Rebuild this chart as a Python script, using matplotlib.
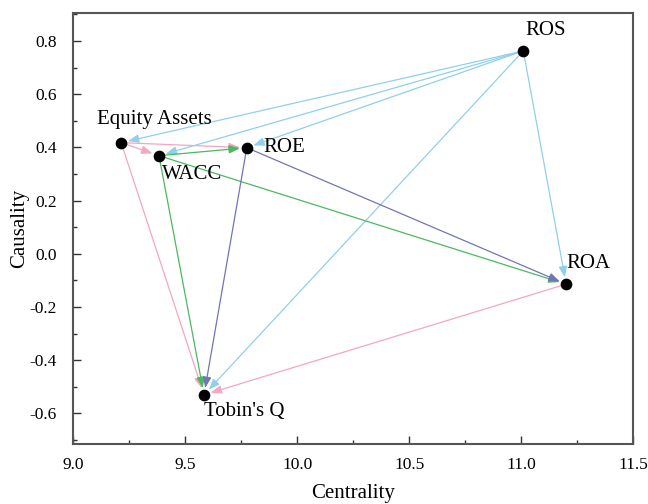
import matplotlib
matplotlib.use("Agg")
import matplotlib.pyplot as plt
from matplotlib.ticker import MultipleLocator

plt.rcParams['font.family'] = ['Liberation Serif', 'DejaVu Serif']

# Node positions: centrality (D+R) and causality (D-R)
nodes = ["ROS", "Equity Assets", "WACC", "ROE", "ROA", "Tobin's Q"]
centrality = [11.01, 9.214, 9.383, 9.775, 11.201, 9.584]
causality = [0.763, 0.418, 0.369, 0.399, -0.114, -0.530]

# Directed influence relations (source, target)
edges = [
    ("ROS", "Equity Assets"), ("ROS", "WACC"), ("ROS", "ROE"),
    ("ROS", "ROA"), ("ROS", "Tobin's Q"),
    ("Equity Assets", "WACC"), ("Equity Assets", "ROE"), ("Equity Assets", "Tobin's Q"),
    ("WACC", "ROE"), ("WACC", "ROA"), ("WACC", "Tobin's Q"),
    ("ROE", "ROA"), ("ROE", "Tobin's Q"),
    ("ROA", "Tobin's Q"),
]
source_colors = {
    "ROS": "#8fd0ea",
    "Equity Assets": "#f3a7c0",
    "WACC": "#4cb960",
    "ROE": "#7275b5",
    "ROA": "#f3a7c0",
}
label_offsets = {
    "ROS": (16, 8, "center", "bottom"),
    "Equity Assets": (24, 10, "center", "bottom"),
    "WACC": (2, -7, "left", "top"),
    "ROE": (12, 0, "left", "center"),
    "ROA": (0, 8, "left", "bottom"),
    "Tobin's Q": (0, -5, "left", "top"),
}

pos = {n: (x, y) for n, x, y in zip(nodes, centrality, causality)}

fig = plt.figure(figsize=(6.48, 5.04), dpi=100)
ax = fig.add_axes([0.113, 0.119, 0.864, 0.855])

for s, t in edges:
    ax.annotate("", xy=pos[t], xytext=pos[s],
                arrowprops=dict(arrowstyle="-|>,head_length=0.65,head_width=0.25",
                                color=source_colors[s], lw=0.9,
                                shrinkA=4, shrinkB=5),
                zorder=2)

ax.scatter(centrality, causality, s=55, color="black", zorder=3)

for n in nodes:
    dx, dy, ha, va = label_offsets[n]
    ax.annotate(n, xy=pos[n], xytext=(dx, dy), textcoords="offset points",
                ha=ha, va=va, fontsize=15, zorder=4)

ax.set_xlim(9.0, 11.5)
ax.set_ylim(-0.715, 0.905)
ax.xaxis.set_major_locator(MultipleLocator(0.5))
ax.xaxis.set_minor_locator(MultipleLocator(0.25))
ax.yaxis.set_major_locator(MultipleLocator(0.2))
ax.yaxis.set_minor_locator(MultipleLocator(0.1))
ax.tick_params(which="both", direction="in", labelsize=12.5, width=1, colors="#333333",
               labelcolor="black")
ax.tick_params(which="major", length=6)
ax.tick_params(which="minor", length=3)
ax.tick_params(axis="x", which="major", pad=9)
ax.tick_params(axis="y", which="major", pad=12)
ax.set_yticks([-0.6, -0.4, -0.2, 0.0, 0.2, 0.4, 0.6, 0.8])
ax.set_yticklabels(["-0.6", "-0.4", "-0.2", "0.0", "0.2", "0.4", "0.6", "0.8"])
for sp in ax.spines.values():
    sp.set_linewidth(1.5)
    sp.set_color("#555555")

ax.set_xlabel("Centrality", fontsize=15, labelpad=8)
ax.set_ylabel("Causality", fontsize=15)
ax.yaxis.set_label_coords(-0.078, 0.5)

fig.savefig("out.png", dpi=100)
